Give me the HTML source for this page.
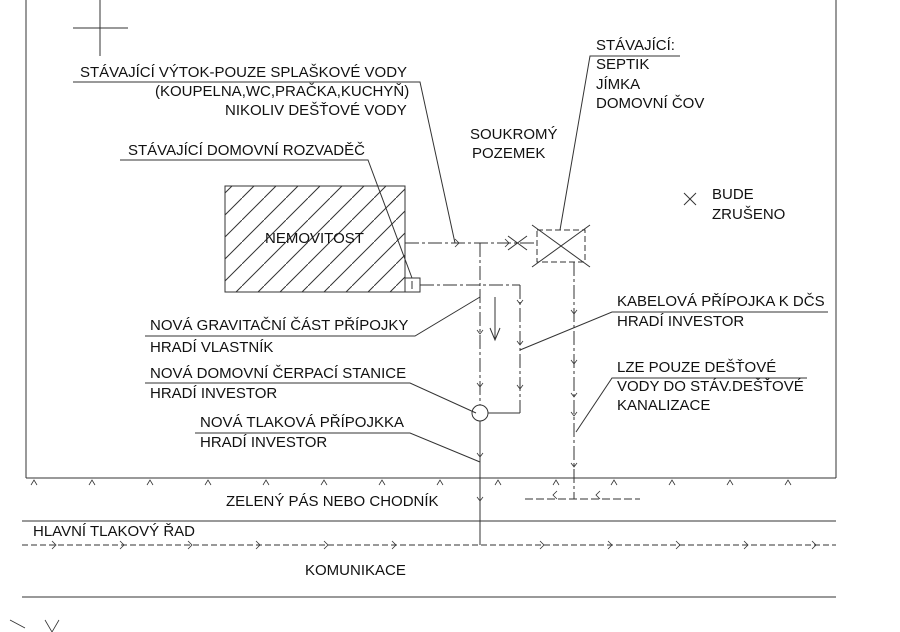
<!DOCTYPE html>
<html><head><meta charset="utf-8"><style>
html,body{margin:0;padding:0;background:#fff;}
svg{display:block}
text{font-family:"Liberation Sans",sans-serif;font-size:15px;fill:#111;}
</style></head><body>
<svg width="900" height="632" viewBox="0 0 900 632" xmlns="http://www.w3.org/2000/svg">
<defs>
<pattern id="h" width="22" height="22" patternUnits="userSpaceOnUse">
<line x1="0" y1="22" x2="22" y2="0" stroke="#333" stroke-width="1"/>
</pattern>
</defs>
<g stroke="#333" stroke-width="1" fill="none">
<line x1="100" y1="0" x2="100" y2="56"/><line x1="73" y1="28" x2="128" y2="28"/>
<line x1="26" y1="0" x2="26" y2="478"/><line x1="836" y1="0" x2="836" y2="478"/>
<line x1="26" y1="478" x2="836" y2="478"/>
<line x1="22" y1="521" x2="836" y2="521"/>
<line x1="22" y1="597" x2="836" y2="597"/>
<line x1="22" y1="545" x2="836" y2="545" stroke-dasharray="6,3"/>
<rect x="225" y="186" width="180" height="106" fill="url(#h)"/>
<rect x="225" y="186" width="180" height="106"/>
<rect x="405" y="278" width="15" height="14" fill="#fff"/>
<line x1="412" y1="281" x2="412" y2="289"/>
<line x1="405" y1="243" x2="537" y2="243" stroke-dasharray="14,3,3,3"/>
<line x1="420" y1="285" x2="520" y2="285" stroke-dasharray="14,3,3,3"/>
<line x1="520" y1="285" x2="520" y2="413" stroke-dasharray="14,3,3,3"/>
<line x1="520" y1="413" x2="488" y2="413"/>
<line x1="480" y1="243" x2="480" y2="405" stroke-dasharray="14,3,3,3"/>
<circle cx="480" cy="413" r="8"/>
<line x1="480" y1="421" x2="480" y2="545"/>
<line x1="495" y1="297" x2="495" y2="340"/>
<polyline points="490,328 495,340 500,328"/>
<rect x="537" y="230" width="48" height="32" stroke-dasharray="6,3"/>
<line x1="532" y1="225" x2="590" y2="267"/><line x1="590" y1="225" x2="532" y2="267"/>
<line x1="508" y1="236" x2="527" y2="250"/><line x1="508" y1="250" x2="527" y2="236"/>
<line x1="574" y1="262" x2="574" y2="499" stroke-dasharray="14,3,3,3"/>
<line x1="525" y1="499" x2="640" y2="499" stroke-dasharray="8,3"/>
<line x1="684" y1="193" x2="696" y2="205"/><line x1="684" y1="205" x2="696" y2="193"/>
<polyline points="73,82 420,82 455,243"/>
<polyline points="120,160 368,160 412,278"/>
<polyline points="680,56 590,56 560,230"/>
<polyline points="828,312 612,312 520,350"/>
<polyline points="807,378 612,378 576,432"/>
<polyline points="145,336 415,336 480,297"/>
<polyline points="145,383 410,383 476,413"/>
<polyline points="195,433 410,433 480,462"/>
<g stroke-width="0.8">
<polyline points="31,485 34,480 37,485"/><polyline points="89,485 92,480 95,485"/><polyline points="147,485 150,480 153,485"/><polyline points="205,485 208,480 211,485"/><polyline points="263,485 266,480 269,485"/><polyline points="321,485 324,480 327,485"/><polyline points="379,485 382,480 385,485"/><polyline points="437,485 440,480 443,485"/><polyline points="495,485 498,480 501,485"/><polyline points="553,485 556,480 559,485"/><polyline points="611,485 614,480 617,485"/><polyline points="669,485 672,480 675,485"/><polyline points="727,485 730,480 733,485"/><polyline points="785,485 788,480 791,485"/>
<polyline points="52,541 56,545 52,549"/><polyline points="120,541 124,545 120,549"/><polyline points="188,541 192,545 188,549"/><polyline points="256,541 260,545 256,549"/><polyline points="324,541 328,545 324,549"/><polyline points="392,541 396,545 392,549"/><polyline points="540,541 544,545 540,549"/><polyline points="608,541 612,545 608,549"/><polyline points="676,541 680,545 676,549"/><polyline points="744,541 748,545 744,549"/><polyline points="812,541 816,545 812,549"/>
<polyline points="477,330 480,334 483,330"/><polyline points="477,383 480,387 483,383"/><polyline points="477,453 480,457 483,453"/><polyline points="477,497 480,501 483,497"/>
<polyline points="571,310 574,314 577,310"/><polyline points="571,360 574,364 577,360"/><polyline points="571,412 574,416 577,412"/><polyline points="571,463 574,467 577,463"/><polyline points="571,393 574,397 577,393"/>
<polyline points="517,300 520,304 523,300"/><polyline points="517,341 520,345 523,341"/><polyline points="517,385 520,389 523,385"/>
<polyline points="455,239 459,243 455,247"/><polyline points="505,239 509,243 505,247"/>
<polyline points="557,499 553,495 557,491"/><polyline points="600,499 596,495 600,491"/>
<polyline points="10,620 25,628"/><polyline points="45,620 52,632 59,620"/>
</g>
</g>
<text x="80" y="77">STÁVAJÍCÍ VÝTOK-POUZE SPLAŠKOVÉ VODY</text>
<text x="155" y="96">(KOUPELNA,WC,PRAČKA,KUCHYŇ)</text>
<text x="225" y="115">NIKOLIV DEŠŤOVÉ VODY</text>
<text x="128" y="155">STÁVAJÍCÍ DOMOVNÍ ROZVADĚČ</text>
<text x="596" y="50">STÁVAJÍCÍ:</text>
<text x="596" y="69">SEPTIK</text>
<text x="596" y="89">JÍMKA</text>
<text x="596" y="108">DOMOVNÍ ČOV</text>
<text x="470" y="139">SOUKROMÝ</text>
<text x="472" y="158">POZEMEK</text>
<text x="265" y="243">NEMOVITOST</text>
<text x="712" y="199">BUDE</text>
<text x="712" y="219">ZRUŠENO</text>
<text x="617" y="306">KABELOVÁ PŘÍPOJKA K DČS</text>
<text x="617" y="326">HRADÍ INVESTOR</text>
<text x="617" y="372">LZE POUZE DEŠŤOVÉ</text>
<text x="617" y="391">VODY DO STÁV.DEŠŤOVÉ</text>
<text x="617" y="410">KANALIZACE</text>
<text x="150" y="330">NOVÁ GRAVITAČNÍ ČÁST PŘÍPOJKY</text>
<text x="150" y="352">HRADÍ VLASTNÍK</text>
<text x="150" y="378">NOVÁ DOMOVNÍ ČERPACÍ STANICE</text>
<text x="150" y="398">HRADÍ INVESTOR</text>
<text x="200" y="427">NOVÁ TLAKOVÁ PŘÍPOJKKA</text>
<text x="200" y="447">HRADÍ INVESTOR</text>
<text x="226" y="506">ZELENÝ PÁS NEBO CHODNÍK</text>
<text x="33" y="536">HLAVNÍ TLAKOVÝ ŘAD</text>
<text x="305" y="575">KOMUNIKACE</text>
</svg>
</body></html>
